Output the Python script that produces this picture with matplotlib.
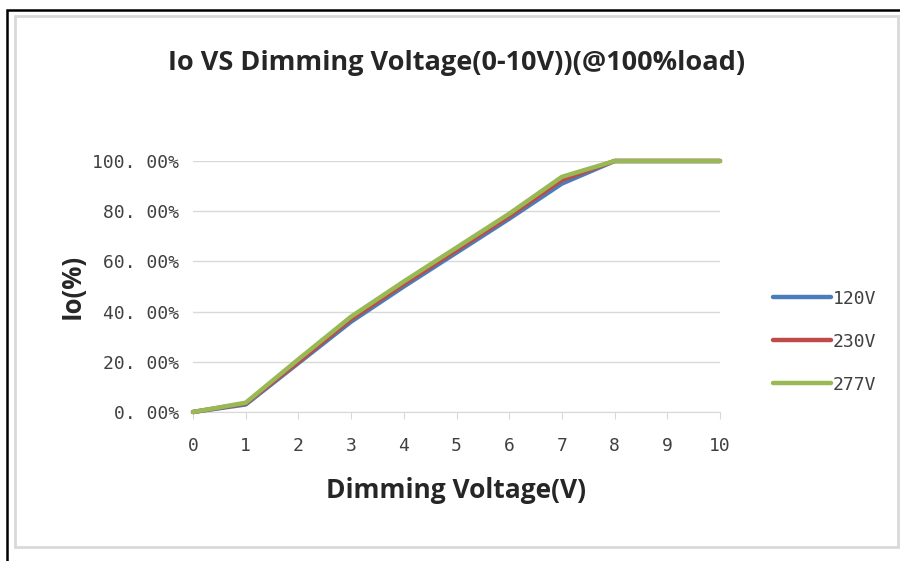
import matplotlib.pyplot as plt
from matplotlib.patches import Rectangle

voltage = [0, 1, 2, 3, 4, 5, 6, 7, 8, 9, 10]
io_120v = [0.0, 0.030, 0.195, 0.360, 0.500, 0.635, 0.770, 0.910, 1.0, 1.0, 1.0]
io_230v = [0.0, 0.034, 0.200, 0.370, 0.510, 0.645, 0.780, 0.925, 1.0, 1.0, 1.0]
io_277v = [0.0, 0.037, 0.210, 0.380, 0.520, 0.655, 0.790, 0.937, 1.0, 1.0, 1.0]
series_names = ["120V", "230V", "277V"]
series_colors = ["#4a7ebb", "#be4b48", "#98b954"]
ytick_vals = [0, 0.2, 0.4, 0.6, 0.8, 1.0]
ytick_labels = ["0. 00%", "20. 00%", "40. 00%", "60. 00%", "80. 00%", "100. 00%"]

fig = plt.figure(figsize=(9, 5.61), dpi=100)
W, H = 900, 561

# outer frames
fig.patches.append(Rectangle((7 / W, -0.1), 1.1, 1 - 10 / H + 0.1, transform=fig.transFigure,
                             fill=False, edgecolor="black", linewidth=1.8))
fig.patches.append(Rectangle((15 / W, 1 - 547 / H), (898 - 15) / W, (547 - 16) / H,
                             transform=fig.transFigure, fill=False, edgecolor="#d9d9d9", linewidth=2))

ax = fig.add_axes([193 / W, 1 - 412 / H, (720 - 193) / W, (412 - 161) / H])

for ys, name, c in zip([io_120v, io_230v, io_277v], series_names, series_colors):
    ax.plot(voltage, ys, color=c, linewidth=3.2, label=name, clip_on=False, solid_capstyle="round", zorder=3)

ax.set_xlim(0, 10)
ax.set_ylim(0, 1.0)
ax.set_xticks(voltage)
ax.set_yticks(ytick_vals)
ax.set_yticklabels(ytick_labels)
tick_font = dict(family="DejaVu Sans Mono", size=13, color="#404040")
for lab in ax.get_xticklabels() + ax.get_yticklabels():
    lab.set(**tick_font)

ax.yaxis.grid(True, color="#d9d9d9", linewidth=1)
ax.set_axisbelow(True)
for s in ["top", "right", "left"]:
    ax.spines[s].set_visible(False)
ax.spines["bottom"].set_color("#d9d9d9")
ax.tick_params(axis="y", length=0, pad=10)
ax.tick_params(axis="x", direction="out", length=5, color="#d9d9d9", pad=13)

ax.set_xlabel("Dimming Voltage(V)", fontsize=19, fontweight="bold", family="Open Sans",
              color="#262626", labelpad=16)
ax.set_ylabel("Io(%)", fontsize=18.5, fontweight="bold", family="Open Sans",
              color="#262626", labelpad=5)
fig.text(457 / W, 1 - 63 / H, "Io VS Dimming Voltage(0-10V))(@100%load)", ha="center", va="center",
         fontsize=19.5, fontweight="bold", family="Open Sans", color="#262626")

leg = ax.legend(loc="center left", bbox_to_anchor=(1.07, 0.28), frameon=False,
                prop={"family": "DejaVu Sans Mono", "size": 13},
                handlelength=3.2, handletextpad=0.1, labelspacing=1.38)
for t in leg.get_texts():
    t.set_color("#404040")

fig.savefig("out.png", dpi=100)
